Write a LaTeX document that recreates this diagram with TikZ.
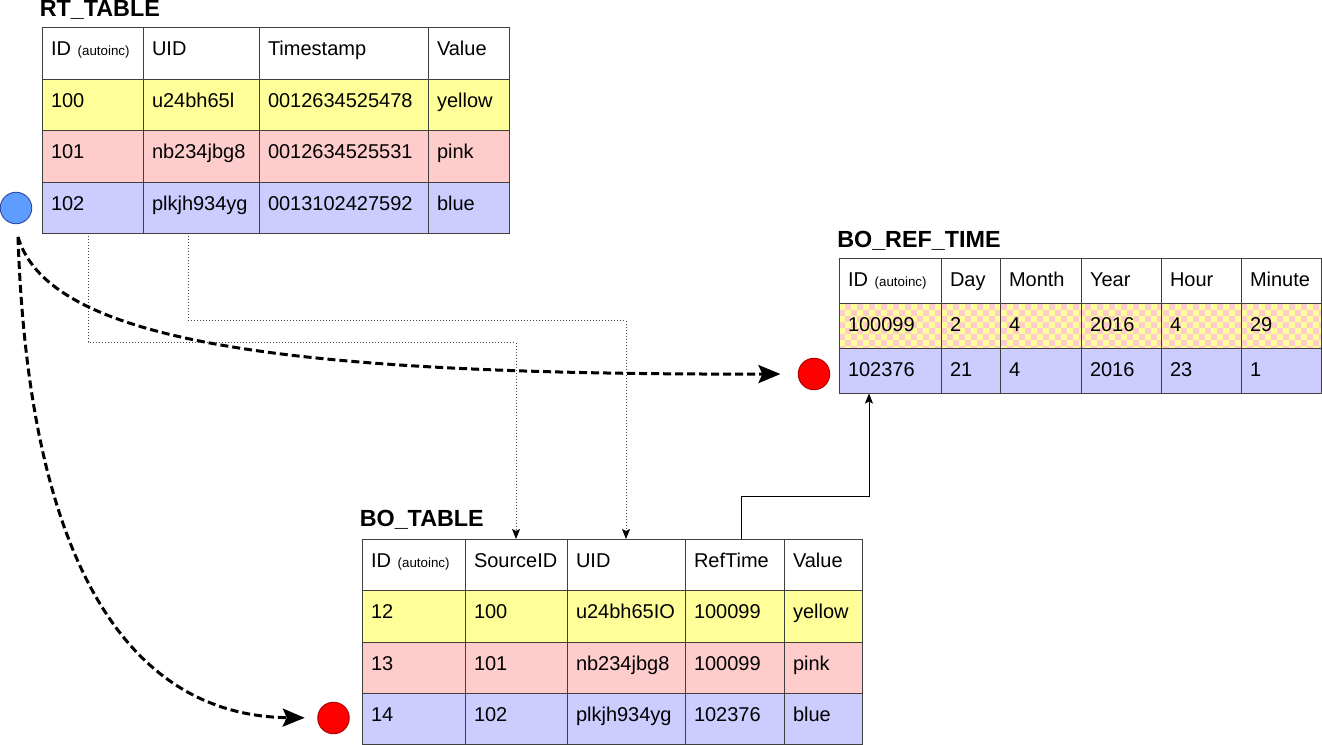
\documentclass[tikz,border=0pt]{standalone}
\usepackage{fontspec}
\setmainfont{Liberation Sans}
\usetikzlibrary{arrows.meta,calc}

\definecolor{rowyellow}{HTML}{FFFF99}
\definecolor{rowpink}{HTML}{FFCCCC}
\definecolor{rowblue}{HTML}{CCCCFF}
\definecolor{gridc}{HTML}{404040}
\definecolor{dotblue}{HTML}{5E9CFF}
\definecolor{dotblueline}{HTML}{2F4FA8}
\definecolor{dotred}{HTML}{FF0000}
\definecolor{dotredline}{HTML}{B00000}
\definecolor{linkgray}{HTML}{444444}

\newcommand{\autoinc}{{\fontsize{10}{12}\selectfont(autoinc)}}

% one table cell: name, left x, top y, width, height, fill, text (px units)
\newcommand{\cellbox}[7]{%
  \pgfmathsetmacro\cellW{(#4-18)*0.75}%
  \pgfmathsetmacro\cellD{(#5-28)*0.75}%
  \node[cell, fill=#6, text width=\cellW pt, text depth=\cellD pt] (#1) at (#2,#3) {#7};%
}
% one table row: prefix, row index, top y, height, fill, list of x/width/text
\newcommand{\tablerow}[6]{%
  \foreach \cx/\cw/\ct [count=\ci] in {#6} {%
    \cellbox{#1-#2-\ci}{\cx}{#3}{\cw}{#4}{#5}{\ct}%
  }%
}

\begin{document}
\begin{tikzpicture}[x=0.75pt,y=-0.75pt,
  cell/.style={draw=gridc, line width=0.75pt, anchor=north west,
    inner xsep=6.75pt, inner ysep=0pt, outer sep=0pt, text height=21pt,
    align=left, font=\fontsize{15}{18}\selectfont},
  tabletitle/.style={anchor=base west, inner sep=0pt,
    font=\fontsize{17.5}{20}\selectfont\bfseries},
  dot/.style={circle, minimum size=23.6pt, inner sep=0pt, line width=0.75pt},
  bigdash/.style={line width=2.25pt, dash pattern=on 6pt off 3pt,
    -{Stealth[length=16.5pt,width=13.5pt,inset=3pt]}},
  dotconn/.style={draw=linkgray, line width=0.75pt, dash pattern=on 0.75pt off 1.5pt,
    -{Stealth[length=7.5pt,width=6pt,inset=1.5pt,color=black]}},
  solidconn/.style={draw=black, line width=0.75pt,
    -{Stealth[length=7.5pt,width=6pt,inset=1.5pt]}}
]
\useasboundingbox (0,0) rectangle (1322,745);

% ---------------- RT_TABLE ----------------
\node[tabletitle] (rt-title) at (39.5,17) {RT\_TABLE};
\tablerow{rt}{0}{28}{51.5}{white}{42/101/ID \autoinc, 143/116/UID, 259/169/Timestamp, 428/81/Value}
\tablerow{rt}{1}{79.5}{51.5}{rowyellow}{42/101/100, 143/116/u24bh65l, 259/169/0012634525478, 428/81/yellow}
\tablerow{rt}{2}{131}{51.5}{rowpink}{42/101/101, 143/116/nb234jbg8, 259/169/0012634525531, 428/81/pink}
\tablerow{rt}{3}{182.5}{51}{rowblue}{42/101/102, 143/116/plkjh934yg, 259/169/0013102427592, 428/81/blue}

% ---------------- BO_REF_TIME ----------------
\node[tabletitle] (brt-title) at (837,248) {BO\_REF\_TIME};
\begin{scope}
  \clip (839,304) rectangle (1321,349);
  \fill[rowpink] (839,304) rectangle (1321,349);
  \foreach \i in {0,...,80} {
    \foreach \j in {0,...,7} {
      \pgfmathparse{int(mod(\i+\j,2))}
      \ifnum\pgfmathresult=0
        \fill[rowyellow] ({839+6*\i},{304+6*\j}) rectangle ++(6,6);
      \fi
    }
  }
\end{scope}
\tablerow{brt}{0}{259}{45}{white}{839/102/ID \autoinc, 941/59/Day, 1000/81/Month, 1081/80/Year, 1161/80/Hour, 1241/80/Minute}
\tablerow{brt}{1}{304}{45}{none}{839/102/100099, 941/59/2, 1000/81/4, 1081/80/2016, 1161/80/4, 1241/80/29}
\tablerow{brt}{2}{349}{44.5}{rowblue}{839/102/102376, 941/59/21, 1000/81/4, 1081/80/2016, 1161/80/23, 1241/80/1}

% ---------------- BO_TABLE ----------------
\node[tabletitle] (bo-title) at (359.5,526) {BO\_TABLE};
\tablerow{bo}{0}{539}{51.5}{white}{362/103/ID \autoinc, 465/102/SourceID, 567/118/UID, 685/99/RefTime, 784/78/Value}
\tablerow{bo}{1}{590.5}{51.5}{rowyellow}{362/103/12, 465/102/100, 567/118/u24bh65IO, 685/99/100099, 784/78/yellow}
\tablerow{bo}{2}{642}{51.5}{rowpink}{362/103/13, 465/102/101, 567/118/nb234jbg8, 685/99/100099, 784/78/pink}
\tablerow{bo}{3}{693.5}{51}{rowblue}{362/103/14, 465/102/102, 567/118/plkjh934yg, 685/99/102376, 784/78/blue}

% ---------------- markers ----------------
\node[dot, fill=dotblue, draw=dotblueline] (bluedot) at (16,208) {};
\node[dot, fill=dotred, draw=dotredline] (reddot1) at (814,374) {};
\node[dot, fill=dotred, draw=dotredline] (reddot2) at (333.5,718) {};
\coordinate (src) at (18,237);

% ---------------- connectors ----------------
\draw[dotconn] ($(rt-3-1.south west)+(46,0)$) -- ++(0,109) -| (bo-0-2.north);
\draw[dotconn] ($(rt-3-2.south west)+(45,0)$) -- ++(0,87) -| (bo-0-3.north);
\draw[solidconn] ($(bo-0-4.north west)+(56,0)$) -- ++(0,-43) -| ($(brt-2-1.south west)+(30,0)$);

\draw[bigdash, shorten >=13pt] (src) .. controls (50,345) and (300,375) .. (reddot1.west);
\draw[bigdash, shorten >=9.4pt] (src) .. controls (30,600) and (150,716) .. (reddot2.west);
\end{tikzpicture}
\end{document}
